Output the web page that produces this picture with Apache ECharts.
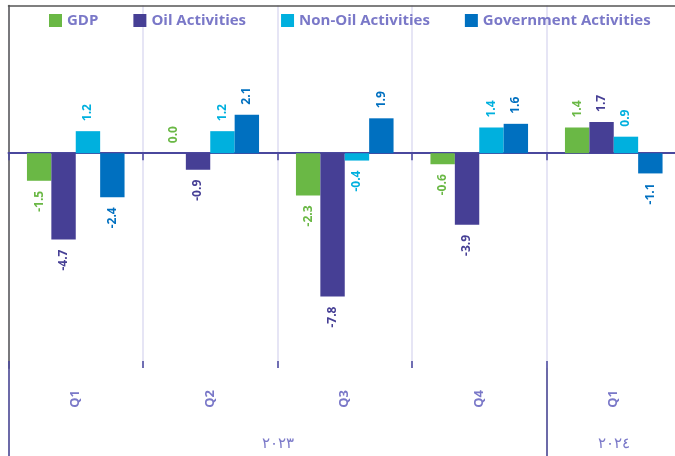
<!DOCTYPE html>
<html>
<head>
<meta charset="utf-8">
<script src="https://cdn.jsdelivr.net/npm/echarts@6/dist/echarts.min.js"></script>
<style>
  html, body { margin: 0; padding: 0; background: #fff; }
  #chart { width: 675px; height: 456px; }
</style>
</head>
<body>
<div id="chart"></div>
<script>
// quarters and years
const quarters = ['Q1', 'Q2', 'Q3', 'Q4', 'Q1']
const years = ['٢٠٢٣', '٢٠٢٤']
const yearSpans = [4, 1]

// growth rates (%)
const gdp = [-1.5, 0.0, -2.3, -0.6, 1.4]
const oil = [-4.7, -0.9, -7.8, -3.9, 1.7]
const nonOil = [1.2, 1.2, -0.4, 1.4, 0.9]
const government = [-2.4, 2.1, 1.9, 1.6, -1.1]

const FONT = 'Open Sans'
const TEXT = '#7a78c8'
const ZERO = '#4a479d'

// year label positions / separators on a 0..5 value scale
let yearCenters = [], yearEdges = [0], acc = 0
yearSpans.forEach(s => { yearCenters.push(acc + s / 2); acc += s; yearEdges.push(acc) })
yearEdges.pop()

function makeSeries (name, values, color) {
  return {
    name: name,
    type: 'bar',
    barWidth: 24.4,
    barGap: '0%',
    itemStyle: { color: color },
    label: {
      show: true,
      rotate: 90,
      distance: 10,
      color: color,
      fontFamily: FONT,
      fontWeight: 'bold',
      fontSize: 12,
      verticalAlign: 'middle',
      formatter: p => Number(p.value).toFixed(1)
    },
    data: values.map(v => ({
      value: v,
      label: { position: v >= 0 ? 'top' : 'bottom', align: v >= 0 ? 'left' : 'right' }
    }))
  }
}

let myChart = echarts.init(document.getElementById('chart'))
myChart.setOption({
  animation: false,
  legend: {
    left: 44,
    top: 8,
    itemWidth: 13,
    itemHeight: 13,
    itemGap: 35,
    icon: 'rect',
    textStyle: { color: TEXT, fontFamily: FONT, fontWeight: 'bold', fontSize: 15 }
  },
  grid: { left: 8.5, width: 672.5, top: 5.5, bottom: 88, outerBoundsMode: 'none' },
  xAxis: [
    {
      type: 'category',
      data: quarters,
      position: 'bottom',
      axisLine: { show: false, onZero: false },
      axisTick: { length: 44, lineStyle: { color: ZERO, width: 1.5 } },
      splitLine: { show: true, lineStyle: { color: '#dedcf2', width: 1.5 } },
      axisLabel: { rotate: 90, margin: 22, color: TEXT, fontFamily: FONT, fontWeight: 'bold', fontSize: 13 }
    },
    {
      type: 'value',
      min: 0,
      max: 5,
      position: 'bottom',
      axisLine: { show: false, onZero: false },
      splitLine: { show: false },
      axisTick: { show: true, customValues: yearEdges, length: 88, lineStyle: { color: '#3c3a8c', width: 1.5 } },
      axisLabel: {
        customValues: yearCenters,
        margin: 68,
        color: TEXT,
        fontFamily: FONT,
        fontSize: 15,
        formatter: v => years[yearCenters.indexOf(v)] || ''
      }
    },
    {
      type: 'category',
      data: quarters,
      position: 'top',
      axisLine: { show: true, onZero: false, lineStyle: { color: '#555', width: 1.5 } },
      axisTick: { show: false },
      axisLabel: { show: false }
    },
    {
      type: 'category',
      data: quarters,
      position: 'bottom',
      axisLine: { show: true, onZero: true, lineStyle: { color: ZERO, width: 2 } },
      axisTick: { show: true, length: 7, lineStyle: { color: ZERO, width: 1.5 } },
      axisLabel: { show: false }
    },
    {
      type: 'category',
      data: quarters,
      position: 'bottom',
      axisLine: { show: false, onZero: true },
      axisTick: { show: true, inside: true, length: 7, lineStyle: { color: ZERO, width: 1.5 } },
      axisLabel: { show: false }
    }
  ],
  yAxis: {
    type: 'value',
    min: -11.69,
    max: 8.04,
    axisLine: { show: true, lineStyle: { color: '#555', width: 1.5 } },
    axisTick: { show: false },
    axisLabel: { show: false },
    splitLine: { show: false }
  },
  series: [
    makeSeries('GDP', gdp, '#6ab845'),
    makeSeries('Oil Activities', oil, '#463f95'),
    makeSeries('Non-Oil Activities', nonOil, '#00b0de'),
    makeSeries('Government Activities', government, '#0070c0')
  ]
})
</script>
</body>
</html>
